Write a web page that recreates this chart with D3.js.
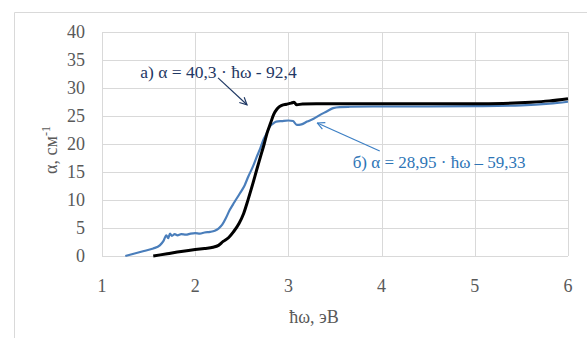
<!DOCTYPE html>
<html>
<head>
<meta charset="utf-8">
<script src="https://cdn.jsdelivr.net/npm/d3@7"></script>
<style>
  body { margin: 0; background: #fff; }
</style>
</head>
<body>
<script>
// curve a (black): photon energy, eV and absorption, cm^-1
const energyA = [1.55, 1.7, 1.85, 2.0, 2.1, 2.19, 2.25, 2.3, 2.36, 2.41, 2.47, 2.52, 2.57, 2.62, 2.66, 2.70, 2.74, 2.77, 2.81, 2.84, 2.88, 2.93, 2.98, 3.03, 3.06, 3.09, 3.15, 3.3, 3.6, 4.0, 4.5, 5.0, 5.3, 5.6, 5.8, 6.0];
const alphaA  = [0.0, 0.4, 0.8, 1.15, 1.35, 1.55, 1.9, 2.6, 3.3, 4.3, 5.8, 7.6, 10.2, 13.0, 15.4, 17.7, 20.0, 21.9, 23.8, 25.2, 26.3, 26.9, 27.1, 27.3, 27.45, 27.0, 27.15, 27.2, 27.2, 27.2, 27.2, 27.2, 27.25, 27.45, 27.7, 28.1];

// curve b (blue)
const energyB = [1.25, 1.35, 1.45, 1.55, 1.62, 1.66, 1.69, 1.71, 1.73, 1.75, 1.78, 1.81, 1.85, 1.9, 1.95, 2.0, 2.05, 2.1, 2.16, 2.21, 2.25, 2.29, 2.33, 2.37, 2.42, 2.48, 2.53, 2.57, 2.62, 2.66, 2.70, 2.73, 2.77, 2.80, 2.84, 2.87, 2.93, 3.0, 3.05, 3.09, 3.14, 3.2, 3.27, 3.34, 3.41, 3.48, 3.55, 3.66, 4.0, 4.5, 5.0, 5.5, 5.8, 6.0];
const alphaB  = [0.0, 0.45, 0.9, 1.35, 1.9, 2.7, 3.7, 3.2, 4.0, 3.6, 3.9, 3.7, 3.9, 3.8, 4.0, 4.1, 4.0, 4.2, 4.3, 4.5, 4.9, 5.6, 6.8, 8.2, 9.6, 11.2, 12.6, 14.2, 16.0, 17.7, 19.3, 20.7, 22.0, 23.1, 23.7, 24.0, 24.1, 24.2, 24.1, 23.4, 23.5, 24.0, 24.5, 25.2, 25.8, 26.4, 26.6, 26.65, 26.7, 26.7, 26.75, 26.9, 27.2, 27.55];

// axes
const xTicks = [1, 2, 3, 4, 5, 6];
const yTicks = [0, 5, 10, 15, 20, 25, 30, 35, 40];

// annotations
const labelA = "а) α = 40,3 · ħω - 92,4";
const labelB = "б) α = 28,95 · ħω – 59,33";

const width = 587, height = 338;
const margin = { top: 32, right: 19, bottom: 82, left: 102 };
const serif = '"Liberation Serif", "Times New Roman", serif';

const svg = d3.select('body').append('svg')
  .attr('width', width).attr('height', height)
  .attr('font-family', serif);

// chart area border (only left/top visible)
svg.append('path')
  .attr('d', `M14.5,${height} L14.5,12.5 L${width},12.5`)
  .attr('fill', 'none').attr('stroke', '#d9d9d9').attr('stroke-width', 1);

const x = d3.scaleLinear().domain([1, 6]).range([margin.left, width - margin.right]);
const y = d3.scaleLinear().domain([0, 40]).range([height - margin.bottom, margin.top]);

// gridlines
svg.append('g').selectAll('line').data(yTicks).enter().append('line')
  .attr('x1', x(1)).attr('x2', x(6))
  .attr('y1', d => Math.round(y(d)) + 0.5).attr('y2', d => Math.round(y(d)) + 0.5)
  .attr('stroke', '#d9d9d9').attr('stroke-width', 1);
svg.append('g').selectAll('line').data(xTicks).enter().append('line')
  .attr('y1', y(0)).attr('y2', y(40))
  .attr('x1', d => Math.round(x(d)) + 0.5).attr('x2', d => Math.round(x(d)) + 0.5)
  .attr('stroke', '#d9d9d9').attr('stroke-width', 1);

// tick labels
svg.append('g').selectAll('text').data(yTicks).enter().append('text')
  .attr('x', 85).attr('y', d => y(d) + 6)
  .attr('text-anchor', 'end').attr('font-size', 18).attr('fill', '#595959')
  .text(d => d);
svg.append('g').selectAll('text').data(xTicks).enter().append('text')
  .attr('x', d => x(d)).attr('y', 292)
  .attr('text-anchor', 'middle').attr('font-size', 18).attr('fill', '#595959')
  .text(d => d);

// axis titles
svg.append('text').attr('x', 314).attr('y', 323)
  .attr('text-anchor', 'middle').attr('font-size', 18).attr('fill', '#595959')
  .text('ħω, эВ');
const yt = svg.append('text')
  .attr('transform', 'translate(57,150) rotate(-90)')
  .attr('text-anchor', 'middle').attr('font-size', 18).attr('fill', '#595959');
yt.append('tspan').text('α, см');
yt.append('tspan').attr('dy', -7).attr('font-size', 12).text('-1');

// lines
const line = d3.line().x(d => x(d[0])).y(d => y(d[1])).curve(d3.curveMonotoneX);
svg.append('path').datum(d3.zip(energyB, alphaB)).attr('d', line)
  .attr('fill', 'none').attr('stroke', '#4a7ebb').attr('stroke-width', 2.2)
  .attr('stroke-linejoin', 'round');
svg.append('path').datum(d3.zip(energyA, alphaA)).attr('d', line)
  .attr('fill', 'none').attr('stroke', '#000').attr('stroke-width', 3)
  .attr('stroke-linejoin', 'round');

// arrow markers
const defs = svg.append('defs');
[['arrA', '#1f3864'], ['arrB', '#3c7fc4']].forEach(([id, c]) => {
  defs.append('marker').attr('id', id).attr('viewBox', '0 0 10 10')
    .attr('refX', 9).attr('refY', 5).attr('markerWidth', 9).attr('markerHeight', 9)
    .attr('markerUnits', 'userSpaceOnUse').attr('orient', 'auto')
    .append('path').attr('d', 'M1,1 L9,5 L1,9').attr('fill', 'none')
    .attr('stroke', c).attr('stroke-width', 1.3);
});

svg.append('line')
  .attr('x1', x(2.245)).attr('y1', y(31.8)).attr('x2', x(2.556)).attr('y2', y(27.0))
  .attr('stroke', '#1f3864').attr('stroke-width', 1.2).attr('marker-end', 'url(#arrA)');
svg.append('line')
  .attr('x1', x(3.98)).attr('y1', y(18.75)).attr('x2', x(3.31)).attr('y2', y(23.75))
  .attr('stroke', '#3c7fc4').attr('stroke-width', 1.2).attr('marker-end', 'url(#arrB)');

svg.append('text').attr('x', x(1.41)).attr('y', y(31.8))
  .attr('font-size', 17.5).attr('fill', '#1f3864').text(labelA);
svg.append('text').attr('x', x(3.69)).attr('y', y(15.7))
  .attr('font-size', 17).attr('fill', '#2e75b6').text(labelB);
</script>
</body>
</html>
